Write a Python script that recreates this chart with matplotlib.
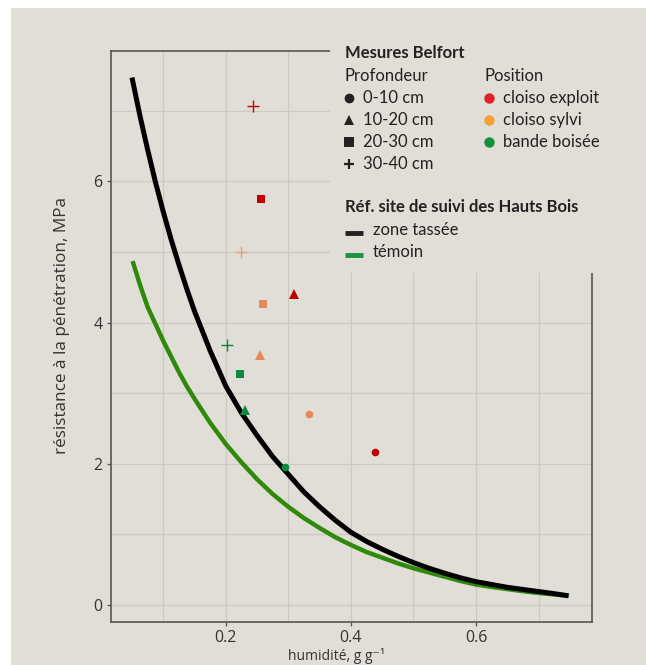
import matplotlib
matplotlib.use("Agg")
import matplotlib.pyplot as plt
from matplotlib.patches import Rectangle
from matplotlib.lines import Line2D
from matplotlib.ticker import MultipleLocator

# reference curves (Hauts Bois)
tasse_x = [0.05, 0.0625, 0.075, 0.0875, 0.10, 0.1125, 0.125, 0.1375, 0.15, 0.175, 0.20, 0.225, 0.25, 0.275,
           0.30, 0.325, 0.35, 0.375, 0.40, 0.425, 0.45, 0.475, 0.50, 0.525, 0.55, 0.575, 0.60, 0.625,
           0.65, 0.675, 0.70, 0.725, 0.748]
tasse_y = [7.47, 6.94, 6.45, 5.99, 5.57, 5.18, 4.82, 4.48, 4.16, 3.60, 3.10, 2.72, 2.40, 2.10,
           1.85, 1.60, 1.39, 1.20, 1.03, 0.90, 0.79, 0.69, 0.60, 0.52, 0.45, 0.385, 0.33, 0.29,
           0.25, 0.22, 0.19, 0.16, 0.13]
temoin_x = [0.051, 0.063, 0.075, 0.0875, 0.10, 0.1125, 0.125, 0.1375, 0.15, 0.175, 0.20, 0.225, 0.25, 0.275,
            0.30, 0.325, 0.35, 0.375, 0.40, 0.425, 0.45, 0.475, 0.50, 0.525, 0.55, 0.575, 0.60,
            0.625, 0.65, 0.675, 0.70, 0.725, 0.748]
temoin_y = [4.87, 4.53, 4.22, 3.98, 3.74, 3.52, 3.30, 3.10, 2.92, 2.58, 2.28, 2.02, 1.78, 1.57,
            1.39, 1.23, 1.09, 0.96, 0.85, 0.75, 0.67, 0.59, 0.52, 0.46, 0.40, 0.34, 0.29,
            0.255, 0.225, 0.195, 0.17, 0.15, 0.13]

# Belfort measurements
mes_depth = ["30-40", "20-30", "30-40", "10-20", "20-30", "30-40", "10-20", "20-30", "10-20", "0-10", "0-10", "0-10"]
mes_pos = ["exploit", "exploit", "sylvi", "exploit", "sylvi", "bande", "sylvi", "bande", "bande", "sylvi", "exploit", "bande"]
mes_x = [0.2435, 0.256, 0.224, 0.309, 0.259, 0.2014, 0.255, 0.223, 0.231, 0.333, 0.439, 0.295]
mes_y = [7.07, 5.75, 5.00, 4.40, 4.26, 3.68, 3.54, 3.27, 2.76, 2.70, 2.17, 1.96]

depth_labels = ["0-10 cm", "10-20 cm", "20-30 cm", "30-40 cm"]
pos_labels = ["cloiso exploit", "cloiso sylvi", "bande boisée"]

BG = "#e1ded7"
W, H = 646, 665
depth_marker = {"0-10": "o", "10-20": "^", "20-30": "s", "30-40": "+"}
depth_size = {"0-10": 5.5, "10-20": 6.5, "20-30": 6, "30-40": 9}
pos_color = {"exploit": "#c00000", "sylvi": "#e8875a", "bande": "#0a8a3c"}
leg_color = {"exploit": "#e0202a", "sylvi": "#f5a030", "bande": "#12903e"}

def fx(x):
    return x / W

def fy(y):
    return 1 - y / H

fig = plt.figure(figsize=(W / 100, H / 100), dpi=100, facecolor="white")
fig.add_artist(Rectangle((fx(11), 0), 1 - fx(11), fy(8), transform=fig.transFigure,
                         facecolor=BG, edgecolor="none", zorder=-5))

ax = fig.add_axes([fx(110.7), fy(621.7), (591.7 - 110.7) / W, (621.7 - 50.7) / H])
ax.set_facecolor(BG)
ax.set_xlim(0.016, 0.785)
ax.set_ylim(-0.237, 7.85)

ax.plot(temoin_x, temoin_y, color="#2f8a0c", lw=3.2, solid_capstyle="butt", solid_joinstyle="round", zorder=3)
ax.plot(tasse_x, tasse_y, color="black", lw=3.6, solid_capstyle="butt", solid_joinstyle="round", zorder=4)

for d, p, x, y in zip(mes_depth, mes_pos, mes_x, mes_y):
    c = pos_color[p]
    if d == "30-40" and p == "sylvi":
        c = "#eba07c"
    ax.plot(x, y, marker=depth_marker[d], ms=depth_size[d], color=c, mew=1.0 if d == "30-40" else 0,
            ls="none", zorder=5)

ax.xaxis.set_major_locator(MultipleLocator(0.2))
ax.xaxis.set_minor_locator(MultipleLocator(0.1))
ax.yaxis.set_major_locator(MultipleLocator(2))
ax.yaxis.set_minor_locator(MultipleLocator(1))
ax.grid(True, which="both", color="#cdc9c1", lw=0.9)
ax.set_axisbelow(True)
ax.tick_params(which="major", length=3, width=0.9, color="#555555", labelsize=11.5,
               labelcolor="#333333", pad=3)
ax.tick_params(which="minor", length=0)
for lab in ax.get_xticklabels() + ax.get_yticklabels():
    lab.set_family("Open Sans")
for s in ax.spines.values():
    s.set_color("#555555")
    s.set_linewidth(1.2)

fig.text(fx(61.7), fy(325), "résistance à la pénétration, MPa", rotation=90, ha="center", va="center",
         fontsize=12.3, color="#333333", family=["Open Sans", "DejaVu Sans"])
fig.text(fx(336), fy(656), "humidité, g g⁻¹", ha="center", va="center",
         fontsize=10, color="#333333", family=["Open Sans", "DejaVu Sans"])

# legend panel covering the upper right of the plot
fig.add_artist(Rectangle((fx(330), fy(273)), 1 - fx(330), fy(30) - fy(273), transform=fig.transFigure,
                         facecolor=BG, edgecolor="none", zorder=5))
tkw = dict(family="Lato", color="#222222", va="center", zorder=6)
fig.text(fx(345), fy(52.7), "Mesures Belfort", fontsize=12, fontweight="bold", **tkw)
fig.text(fx(345), fy(75.7), "Profondeur", fontsize=12, **tkw)
fig.text(fx(484.3), fy(75.7), "Position", fontsize=12, **tkw)
row_y = [97.7, 120, 142.3, 164.3]
leg_ms = {"0-10": 7, "10-20": 7, "20-30": 6.5, "30-40": 6.5}
for i, d in enumerate(["0-10", "10-20", "20-30", "30-40"]):
    fig.add_artist(Line2D([fx(349)], [fy(row_y[i])], transform=fig.transFigure, marker=depth_marker[d],
                          ms=leg_ms[d], color="#222222", mew=1.6 if d == "30-40" else 0,
                          ls="none", zorder=6))
    fig.text(fx(363.3), fy(row_y[i]), depth_labels[i], fontsize=12, **tkw)
for i, p in enumerate(["exploit", "sylvi", "bande"]):
    fig.add_artist(Line2D([fx(489)], [fy(row_y[i])], transform=fig.transFigure, marker="o",
                          ms=7.5, color=leg_color[p], mew=0, ls="none", zorder=6))
    fig.text(fx(503.3), fy(row_y[i]), pos_labels[i], fontsize=12, **tkw)

fig.text(fx(345), fy(207.3), "Réf. site de suivi des Hauts Bois", fontsize=12, fontweight="bold", **tkw)
for yy, col, lab in [(230, "#222222", "zone tassée"), (251.7, "#1f9040", "témoin")]:
    fig.add_artist(Line2D([fx(345), fx(363)], [fy(yy + 3), fy(yy + 3)], transform=fig.transFigure,
                          color=col, lw=3.5, solid_capstyle="butt", zorder=6))
    fig.text(fx(372.7), fy(yy), lab, fontsize=12, **tkw)

fig.savefig("out.png", dpi=100, facecolor="white")
